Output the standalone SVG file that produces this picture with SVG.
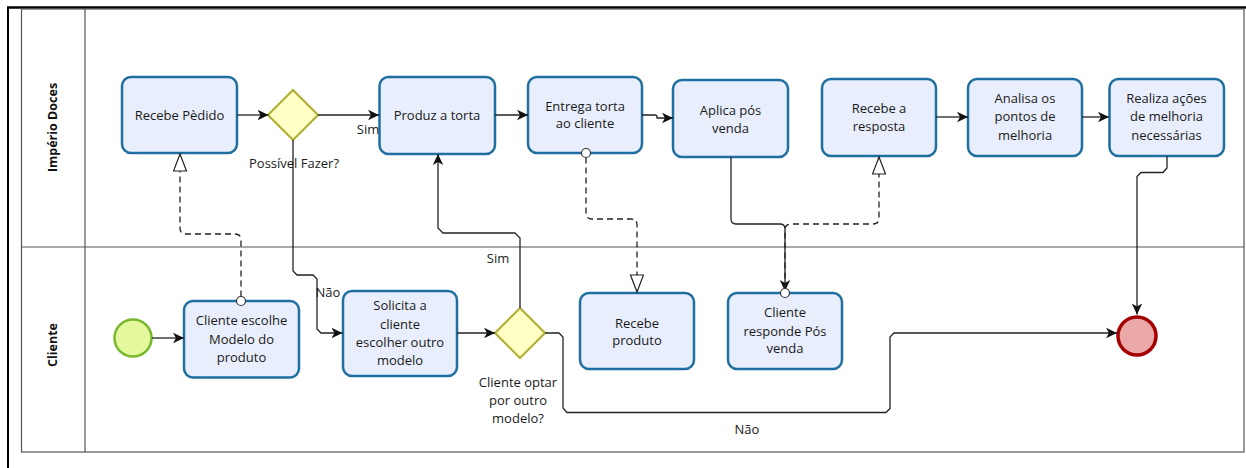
<svg xmlns="http://www.w3.org/2000/svg" width="1246" height="468" viewBox="0 0 1246 468">
  <defs>
    <style>
      .frame { fill: none; stroke: #000; }
      .pool { fill: none; stroke: #555; stroke-width: 1.2; }
      .lane-label { font-family: "Open Sans", "Noto Sans", sans-serif; font-weight: bold; font-size: 12.5px; fill: #111; text-anchor: middle; }
      .task rect { fill: #e8eefc; stroke: #1f6fa0; stroke-width: 2.5; }
      .task text, .label { font-family: "Open Sans", "Noto Sans", sans-serif; font-size: 13px; fill: #1a1a1a; text-anchor: middle; }
      .gateway path { fill: #ffffc6; stroke: #b0b038; stroke-width: 2.2; }
      .start circle { fill: #e4f99d; stroke: #78b82c; stroke-width: 2.5; }
      .end circle { fill: #eba8a8; stroke: #a50000; stroke-width: 3.5; }
      .flow { fill: none; stroke: #222; stroke-width: 1.3; marker-end: url(#arrow); }
      .assoc { fill: none; stroke: #222; stroke-width: 1.3; stroke-dasharray: 6 4; marker-end: url(#hollow); }
      .src { fill: #fff; stroke: #333; stroke-width: 1.2; }
    </style>
    <marker id="arrow" markerUnits="userSpaceOnUse" markerWidth="12" markerHeight="12" refX="11" refY="6" orient="auto">
      <path d="M0,0.8 L11,6 L0,11.2 L3,6 Z" fill="#111"/>
    </marker>
    <marker id="hollow" markerUnits="userSpaceOnUse" markerWidth="20" markerHeight="16" refX="18" refY="7" orient="auto">
      <path d="M1,0.5 L18,7 L1,13.5 Z" fill="#fff" stroke="#222" stroke-width="1.2"/>
    </marker>
  </defs>

  <!-- outer frame and pool with two lanes -->
  <line class="frame" x1="7" y1="7.5" x2="1246" y2="7.5" stroke-width="2.5"/>
  <line class="frame" x1="8" y1="7" x2="8" y2="468" stroke-width="2"/>
  <rect class="pool" x="21.5" y="9" width="1222.5" height="443"/>
  <line class="pool" x1="85" y1="9" x2="85" y2="452"/>
  <line class="pool" x1="21.5" y1="247" x2="1244" y2="247"/>
  <text class="lane-label" transform="translate(57,127.5) rotate(-90)">Império Doces</text>
  <text class="lane-label" transform="translate(57,345) rotate(-90)">Cliente</text>

  <!-- Império Doces lane -->
  <g id="recebe-pedido" class="task">
    <rect x="122" y="77" width="115" height="76" rx="9"/>
    <text x="179.5" y="119.5">Recebe Pèdido</text>
  </g>
  <g id="possivel-fazer" class="gateway">
    <path d="M293,90 L318,115 L293,140 L268,115 Z"/>
  </g>
  <g id="produz-torta" class="task">
    <rect x="379.5" y="77" width="115.5" height="77" rx="9" stroke-width="3.2"/>
    <text x="437" y="120">Produz a torta</text>
  </g>
  <g id="entrega-torta" class="task">
    <rect x="528" y="77" width="114" height="76" rx="9"/>
    <text x="585" y="110.5">Entrega torta</text>
    <text x="585" y="128">ao cliente</text>
  </g>
  <g id="aplica-pos-venda" class="task">
    <rect x="673" y="80" width="115" height="77" rx="9"/>
    <text x="730.5" y="114.5">Aplica pós</text>
    <text x="730.5" y="132.5">venda</text>
  </g>
  <g id="recebe-resposta" class="task">
    <rect x="822" y="79" width="114" height="77" rx="9"/>
    <text x="879" y="112.5">Recebe a</text>
    <text x="879" y="130.5">resposta</text>
  </g>
  <g id="analisa-pontos" class="task">
    <rect x="968" y="79" width="114" height="77" rx="9"/>
    <text x="1025" y="102.5">Analisa os</text>
    <text x="1025" y="121">pontos de</text>
    <text x="1025" y="139.5">melhoria</text>
  </g>
  <g id="realiza-acoes" class="task">
    <rect x="1109.5" y="79" width="114.5" height="77" rx="9"/>
    <text x="1166.5" y="102.5">Realiza ações</text>
    <text x="1166.5" y="121">de melhoria</text>
    <text x="1166.5" y="139.5">necessárias</text>
  </g>

  <!-- Cliente lane -->
  <g id="inicio" class="start">
    <circle cx="133" cy="338" r="18.5"/>
  </g>
  <g id="cliente-escolhe" class="task">
    <rect x="184" y="301" width="115" height="76.5" rx="9"/>
    <text x="241.5" y="324.5">Cliente escolhe</text>
    <text x="241.5" y="343.5">Modelo do</text>
    <text x="241.5" y="361.5">produto</text>
  </g>
  <g id="solicita-outro-modelo" class="task">
    <rect x="343" y="291" width="114" height="85" rx="9"/>
    <text x="400" y="309.5">Solicita a</text>
    <text x="400" y="328.5">cliente</text>
    <text x="400" y="347">escolher outro</text>
    <text x="400" y="365">modelo</text>
  </g>
  <g id="optar-outro-modelo" class="gateway">
    <path d="M520,308 L545,333 L520,358 L495,333 Z"/>
    <text class="label" x="518" y="387">Cliente optar</text>
    <text class="label" x="518" y="405">por outro</text>
    <text class="label" x="518" y="423">modelo?</text>
  </g>
  <g id="recebe-produto" class="task">
    <rect x="580" y="293" width="114" height="76" rx="9"/>
    <text x="637" y="327.5">Recebe</text>
    <text x="637" y="345">produto</text>
  </g>
  <g id="cliente-responde" class="task">
    <rect x="728" y="293" width="114" height="76" rx="9"/>
    <text x="785" y="316.5">Cliente</text>
    <text x="785" y="335.5">responde Pós</text>
    <text x="785" y="353">venda</text>
  </g>
  <g id="fim" class="end">
    <circle cx="1137" cy="336" r="19"/>
  </g>

  <!-- connectors: sequence flows, associations and their labels -->
  <g id="connectors">
    <path class="flow" d="M152,338 H184"/>
    <path class="assoc" d="M241,296.5 V240 Q241,234 235,234 H186 Q180,234 180,228 V154"/>
    <path class="flow" d="M237,115 H268.5"/>
    <path class="flow" d="M318,115 H379"/>
    <path class="flow" d="M293,140 V271 L297,275 H313 L317,279 V329 L321,333 H342.5"/>
    <path class="flow" d="M495,115 H528"/>
    <path class="flow" d="M642,115 H655 Q657,115 657,117 V118 H673"/>
    <path class="assoc" d="M586,157.5 V213 Q586,219 592,219 H631 Q637,219 637,225 V292"/>
    <path class="flow" d="M731,157 V219 Q731,224 736,224 H780 Q785,224 785,229 V291"/>
    <path class="assoc" d="M785,288.5 V230 Q785,224 791,224 H873 Q879,224 879,218 V157"/>
    <path class="flow" d="M936,117 H968"/>
    <path class="flow" d="M1082,117 H1109"/>
    <path class="flow" d="M1167,156 V168 L1163,172.5 H1141 L1137,176.5 V314.5"/>
    <path class="flow" d="M457,333 H495"/>
    <path class="flow" d="M520,308 V238 L515,233 H443 L438,228 V154"/>
    <path class="flow" d="M545,333 H559 L563,337 V408 L567,412.5 H886 L890,408.5 V337 L894,333 H1117"/>
    <circle class="src" cx="241" cy="301" r="4.5"/>
    <circle class="src" cx="586" cy="153" r="4.5"/>
    <circle class="src" cx="785" cy="293" r="4.5"/>
    <text class="label" x="368" y="134">Sim</text>
    <text class="label" x="294" y="168">Possível Fazer?</text>
    <text class="label" x="328" y="297">Não</text>
    <text class="label" x="498" y="263">Sim</text>
    <text class="label" x="747" y="434">Não</text>
  </g>
</svg>
